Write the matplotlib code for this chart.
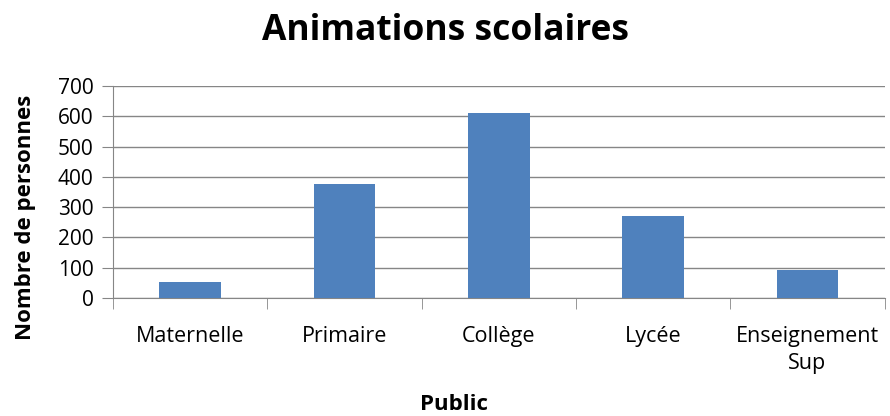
import matplotlib.pyplot as plt
import numpy as np

categories = ['Maternelle', 'Primaire', 'Collège', 'Lycée', 'Enseignement\nSup']
values = [54, 378, 611, 271, 92]
yticks = [0, 100, 200, 300, 400, 500, 600, 700]

plt.rcParams['font.family'] = ['Open Sans', 'DejaVu Sans']

fig = plt.figure(figsize=(8.9, 4.16), dpi=100)
ax = fig.add_axes([0.127, 0.284, 0.867, 0.509])

x = np.arange(len(categories))
ax.bar(x, values, width=0.4, color='#4f81bd', zorder=3)

ax.set_xlim(-0.5, len(categories) - 0.5)
ax.set_ylim(0, 700)
ax.set_yticks(yticks)
ax.set_yticklabels([str(v) for v in yticks], fontsize=15)
ax.set_xticks(x)
ax.set_xticklabels(categories, fontsize=15.5, linespacing=1.4)
ax.tick_params(axis='x', length=0, pad=20)
ax.tick_params(axis='y', length=8, color='#868686', pad=6)

# boundary ticks between categories (Excel style)
ax.set_xticks(np.arange(-0.5, len(categories)), minor=True)
ax.tick_params(axis='x', which='minor', length=8, color='#868686')

ax.grid(axis='y', color='#868686', linewidth=1, zorder=0)
for side in ['top', 'right']:
    ax.spines[side].set_visible(False)
for side in ['left', 'bottom']:
    ax.spines[side].set_color('#868686')

fig.text(0.5, 1 - 40 / 416, 'Animations scolaires', fontsize=25.5,
         fontweight='bold', ha='center', va='baseline')
ax.set_ylabel('Nombre de personnes', fontsize=16, fontweight='bold')
ax.yaxis.set_label_coords(-0.100, 0.38)
fig.text((422 + 487) / 2 / 890, 1 - 410 / 416, 'Public', fontsize=16,
         fontweight='bold', ha='center', va='baseline')

fig.savefig('out.png')
